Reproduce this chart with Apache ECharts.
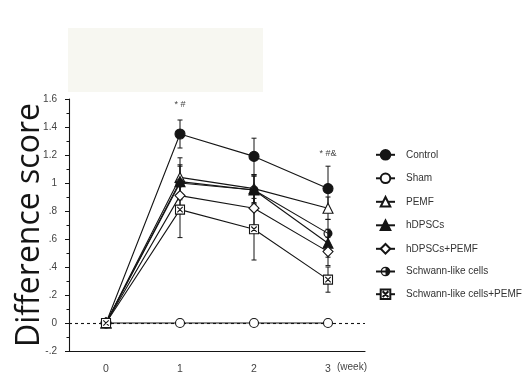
<!DOCTYPE html>
<html>
<head>
<meta charset="utf-8">
<script src="https://cdn.jsdelivr.net/npm/echarts@6/dist/echarts.min.js"></script>
<style>
  html, body { margin: 0; padding: 0; background: #ffffff; }
  #chart { width: 531px; height: 378px; }
</style>
</head>
<body>
<div id="chart"></div>
<script>
// Weeks after treatment
const weeks = [0, 1, 2, 3];

// Group means (difference score) and standard errors per week
const control = [0, 1.35, 1.19, 0.96];
const controlSE = [0, 0.10, 0.13, 0.16];
const sham = [0, 0, 0, 0];
const shamSE = [0, 0, 0, 0];
const pemf = [0, 1.04, 0.96, 0.82];
const pemfSE = [0, 0.14, 0.10, 0.08];
const hdpscs = [0, 1.01, 0.95, 0.57];
const hdpscsSE = [0, 0.12, 0.10, 0.10];
const hdpscsPemf = [0, 0.91, 0.82, 0.51];
const hdpscsPemfSE = [0, 0.10, 0.12, 0.10];
const schwann = [0, 1.00, 0.95, 0.64];
const schwannSE = [0, 0.12, 0.10, 0.10];
const schwannPemf = [0, 0.81, 0.67, 0.31];
const schwannPemfSE = [0, 0.20, 0.22, 0.09];

const groupNames = ['Control', 'Sham', 'PEMF', 'hDPSCs', 'hDPSCs+PEMF', 'Schwann-like cells', 'Schwann-like cells+PEMF'];

// Significance marks above the control group
const sigWeeks = [1, 3];
const sigLevels = [1.56, 1.21];
const sigTexts = ['* #', '* #&'];

const INK = '#151515';
const SMALL_FONT = 'Liberation Sans, Arial, sans-serif';

// Marker shapes
const halfCircle = 'path://M0,-10A10,10,0,1,1,0,10A10,10,0,1,1,0,-10ZM0,-7.4A7.4,7.4,0,1,0,0,7.4A7.4,7.4,0,1,0,0,-7.4ZM0,-7.4A7.4,7.4,0,0,1,0,7.4Z';
const crossSquare = 'path://M-10,-10H10V10H-10ZM-6,-6L6,6M6,-6L-6,6';

const groups = [
  { name: groupNames[0], mean: control, se: controlSE, symbol: 'circle', size: 10, fill: INK },
  { name: groupNames[1], mean: sham, se: shamSE, symbol: 'circle', size: 9, fill: '#fff' },
  { name: groupNames[2], mean: pemf, se: pemfSE, symbol: 'triangle', size: 10, fill: '#fff' },
  { name: groupNames[3], mean: hdpscs, se: hdpscsSE, symbol: 'triangle', size: 10, fill: INK },
  { name: groupNames[4], mean: hdpscsPemf, se: hdpscsPemfSE, symbol: 'diamond', size: 10, fill: '#fff' },
  { name: groupNames[5], mean: schwann, se: schwannSE, symbol: halfCircle, size: 9, fill: INK, noBorder: true },
  { name: groupNames[6], mean: schwannPemf, se: schwannPemfSE, symbol: crossSquare, size: 9, fill: '#fff' }
];

// Error bar rows: [week, low, high]
const errRows = [];
groups.forEach(g => {
  weeks.forEach((w, j) => {
    if (g.se[j] > 0) errRows.push([w, g.mean[j] - g.se[j], g.mean[j] + g.se[j]]);
  });
});

function fmtTick(v) {
  const r = Math.round(v * 10) / 10;
  if (r === 0) return '0';
  return String(r).replace(/^0\./, '.').replace(/^-0\./, '-.');
}

const series = [];

series.push({
  type: 'custom',
  name: 'err',
  z: 1,
  silent: true,
  data: errRows,
  renderItem: function (params, api) {
    const x = api.value(0);
    const lo = api.coord([x, api.value(1)]);
    const hi = api.coord([x, api.value(2)]);
    const cap = 2.5;
    const style = { stroke: INK, lineWidth: 1 };
    return {
      type: 'group',
      children: [
        { type: 'line', shape: { x1: lo[0], y1: lo[1], x2: hi[0], y2: hi[1] }, style: style },
        { type: 'line', shape: { x1: hi[0] - cap, y1: hi[1], x2: hi[0] + cap, y2: hi[1] }, style: style },
        { type: 'line', shape: { x1: lo[0] - cap, y1: lo[1], x2: lo[0] + cap, y2: lo[1] }, style: style }
      ]
    };
  }
});

groups.forEach((g, i) => {
  const s = {
    type: 'line',
    name: g.name,
    z: 2 + i,
    data: weeks.map((w, j) => [w, g.mean[j]]),
    symbol: g.symbol,
    symbolSize: g.size,
    showAllSymbol: true,
    lineStyle: { color: INK, width: 1.1 },
    itemStyle: { color: g.fill, borderColor: INK, borderWidth: g.noBorder ? 0 : 1.1 },
    emphasis: { disabled: true },
    animation: false
  };
  if (i === 0) {
    s.markPoint = {
      symbol: 'circle',
      symbolSize: 0,
      silent: true,
      label: { show: true, position: 'inside', color: '#444', fontSize: 9, fontFamily: SMALL_FONT },
      data: sigWeeks.map((w, k) => ({ coord: [w, sigLevels[k]], label: { formatter: sigTexts[k] } }))
    };
  }
  if (i === 1) {
    s.markLine = {
      silent: true,
      z: 1,
      symbol: 'none',
      label: { show: false },
      lineStyle: { color: INK, type: [3, 3], width: 1.1 },
      data: [{ yAxis: 0 }],
      animation: false
    };
  }
  series.push(s);
});

const chart = echarts.init(document.getElementById('chart'), null, { renderer: 'canvas' });
chart.setOption({
  animation: false,
  backgroundColor: '#ffffff',
  graphic: [
    { type: 'rect', left: 68, top: 28, shape: { width: 195, height: 64 }, style: { fill: '#f7f7f1' }, silent: true },
    { type: 'text', left: 337, top: 362, style: { text: '(week)', fill: '#444', font: '10px Liberation Sans, Arial, sans-serif' }, silent: true }
  ],
  grid: { left: 69, right: 166, top: 99, bottom: 27, containLabel: false, outerBoundsMode: 'none' },
  xAxis: {
    type: 'value',
    min: -0.5,
    max: 3.5,
    axisLine: { onZero: false, lineStyle: { color: INK, width: 1.1 } },
    axisTick: { show: false },
    splitLine: { show: false },
    axisLabel: { customValues: weeks, color: '#444', fontSize: 10.5, fontFamily: SMALL_FONT, margin: 13 }
  },
  yAxis: {
    type: 'value',
    min: -0.2,
    max: 1.6,
    interval: 0.2,
    name: 'Difference score',
    nameLocation: 'middle',
    nameGap: 23,
    nameMoveOverlap: false,
    nameTextStyle: { color: INK, fontSize: 32, fontFamily: 'Open Sans' },
    axisLine: { show: true, onZero: false, lineStyle: { color: INK, width: 1.1 } },
    axisTick: { show: true, length: 4, lineStyle: { color: INK } },
    minorTick: { show: true, splitNumber: 2, length: 2.5, lineStyle: { color: INK } },
    splitLine: { show: false },
    axisLabel: { formatter: fmtTick, color: '#444', fontSize: 10, fontFamily: SMALL_FONT, margin: 12 }
  },
  legend: {
    orient: 'vertical',
    left: 375,
    top: 149,
    padding: 0,
    itemWidth: 19,
    itemHeight: 12,
    itemGap: 11.9,
    data: groupNames,
    selectedMode: false,
    textStyle: { color: '#333', fontSize: 10, fontFamily: SMALL_FONT, padding: [0, 0, 0, 6] }
  },
  series: series
});
</script>
</body>
</html>
